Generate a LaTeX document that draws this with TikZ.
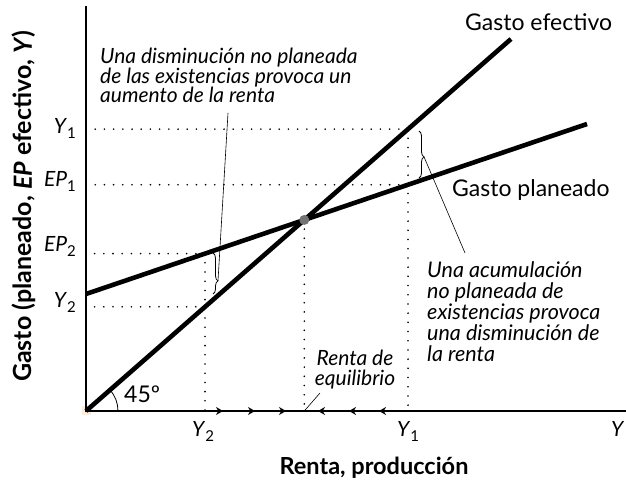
\documentclass[tikz,border=0pt]{standalone}
\usepackage{fontspec}
\setmainfont{Lato}
\usetikzlibrary{arrows.meta, calc, decorations.pathreplacing}

\newcommand{\lev}[2]{\textit{#1}\raisebox{-0.45ex}{\fontsize{15}{15}\selectfont #2}}

\begin{document}
\begin{tikzpicture}[
  x=1pt, y=1pt,
  >=Stealth,
  axisline/.style={line width=1.1pt},
  schedule/.style={line width=4.6pt},
  guide/.style={line width=1.8pt, line cap=round, dash pattern=on 0pt off 9.2pt},
  curly/.style={decorate, decoration={brace, amplitude=5pt, aspect=#1}, line width=0.8pt},
  pointer/.style={line width=0.6pt},
  lbl/.style={font=\fontsize{23}{26}\selectfont, inner sep=0pt},
  note/.style={font=\fontsize{21.5}{21}\selectfont\itshape, align=left, inner sep=0pt},
  tight/.style={font=\fontsize{21}{19.5}\selectfont\itshape},
  levlbl/.style={font=\fontsize{21}{24}\selectfont, inner sep=0pt},
  axlabel/.style={font=\fontsize{23.5}{26}\selectfont\bfseries, inner sep=0pt},
  flow/.style={-{Stealth[length=7pt, width=8pt]}, line width=1.1pt},
]
\useasboundingbox (0,0) rectangle (626,479);

% --- axes ---
\fill[orange!15] (82,64) rectangle (91,73);
\coordinate (O)    at (86,68);
\coordinate (ytop) at (86,473);
\coordinate (xend) at (626,68);
\draw[axisline] (ytop) -- (O) -- (xend);

% --- schedules ---
\coordinate (eff) at (511,440);
\coordinate (pl0) at (86,185);
\coordinate (pl1) at (587,355);
\draw[schedule] (O) -- (eff);
\draw[schedule] (pl0) -- (pl1);

% --- levels ---
\coordinate (v1a) at (408,0);
\coordinate (v1b) at (408,479);
\coordinate (v2a) at (205,0);
\coordinate (v2b) at (205,479);
\coordinate (E)    at (intersection of O--eff and pl0--pl1);
\coordinate (Y1e)  at (intersection of O--eff and v1a--v1b);
\coordinate (EP1p) at (intersection of pl0--pl1 and v1a--v1b);
\coordinate (EP2p) at (intersection of pl0--pl1 and v2a--v2b);
\coordinate (Y2e)  at (intersection of O--eff and v2a--v2b);

\draw[guide] (Y1e)  -- (Y1e -| O);
\draw[guide] (EP1p) -- (EP1p -| O);
\draw[guide] (EP2p) -- (EP2p -| O);
\draw[guide] (Y2e)  -- (Y2e -| O);
\draw[guide] (Y1e)  -- (Y1e |- O);
\draw[guide] (EP2p) -- (EP2p |- O);
\draw[guide] (E)    -- (E |- O);

\node[circle, fill=black!55, inner sep=0pt, minimum size=10pt] (eq) at (E) {};

% --- braces ---
\coordinate (bR1) at (419,348);
\coordinate (bR2) at (419,301);
\draw[curly=0.55] (bR1) -- (bR2);
\coordinate (tipR) at ($(bR1)!0.55!(bR2)+(5,0)$);
\coordinate (bL1) at (213,226);
\coordinate (bL2) at (213,185);
\draw[curly=0.68] (bL1) -- (bL2);
\coordinate (tipL) at ($(bL1)!0.68!(bL2)+(5,0)$);

% --- flows along the axis ---
\foreach \t in {223,255,286}
  \draw[flow] (\t-8,68) -- (\t,68);
\foreach \t in {318,349,379}
  \draw[flow] (\t+8,68) -- (\t,68);

% --- angle ---
\draw[line width=0.8pt] ($(O)+(32,0)$) arc[start angle=0, end angle=41.2, radius=32];
\node[lbl, anchor=base west] (ang) at (124,76) {45º};

% --- labels ---
\node[lbl, anchor=base west] (effl) at (465,448) {Gasto efectivo};
\node[lbl, anchor=base west] (pll)  at (452,282) {Gasto planeado};

\node[note, tight, anchor=north west] (noteL) at (100,431)
  {Una disminución no planeada\\de las existencias provoca un\\aumento de la renta};
\node[note, anchor=north west] (noteR) at (427,218)
  {Una acumulación\\no planeada de\\existencias provoca\\una disminución de\\la renta};
\node[note, tight, align=center, anchor=north] (eqlbl) at (355,129)
  {Renta de\\equilibrio};

\coordinate (endL)  at (228,366);
\coordinate (endR)  at (465,226);
\coordinate (endEq) at (320,86);
\draw[pointer] (tipL) -- (endL);
\draw[pointer] (tipR) -- (endR);
\draw[pointer] (E |- O) -- (endEq);

% --- tick labels ---
\node[levlbl, anchor=base east] (ly1)  at (76,345) {\lev{Y}{1}};
\node[levlbl, anchor=base east] (lep1) at (76,292) {\lev{EP}{1}};
\node[levlbl, anchor=base east] (lep2) at (76,227) {\lev{EP}{2}};
\node[levlbl, anchor=base east] (ly2)  at (76,171) {\lev{Y}{2}};

\node[levlbl, anchor=base] (xy2) at (203,42) {\lev{Y}{2}};
\node[levlbl, anchor=base] (xy1) at (408,42) {\lev{Y}{1}};
\node[levlbl, anchor=base west] (xy) at (611,42) {\textit{Y}};

\node[axlabel, anchor=base] (xlbl) at (374,5) {Renta, producción};
\node[axlabel, font=\fontsize{25}{28}\selectfont\bfseries, rotate=90, anchor=base] (ylbl) at (32,273)
  {Gasto (planeado, \textit{EP} efectivo, \textit{Y})};

\end{tikzpicture}
\end{document}
